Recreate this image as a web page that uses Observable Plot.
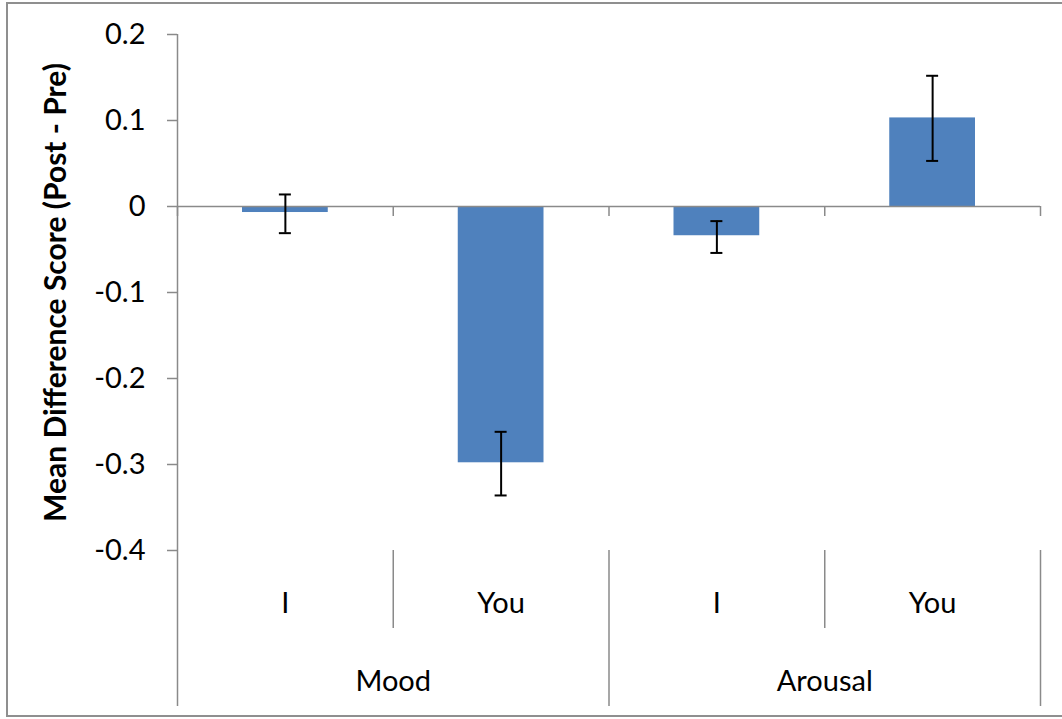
<!DOCTYPE html>
<html>
<head>
<meta charset="utf-8">
<script src="https://cdn.jsdelivr.net/npm/d3@7"></script>
<script src="https://cdn.jsdelivr.net/npm/@observablehq/plot@0.6"></script>
<style>
  html, body { margin: 0; padding: 0; background: #fff; overflow: hidden; }
  #wrap { position: relative; width: 1062px; height: 719px; }
  #border { position: absolute; left: 6px; top: 2px; width: 1070px; height: 715px; border: 2px solid #8f8f8f; box-sizing: border-box; pointer-events: none; }
</style>
</head>
<body>
<div id="wrap"><div id="border"></div></div>
<script>
// ---- data ----
const groups = ["Mood", "Mood", "Arousal", "Arousal"];
const conditions = ["I", "You", "I", "You"];
const means = [-0.007, -0.298, -0.034, 0.103];
const errLow = [-0.031, -0.336, -0.054, 0.053];
const errHigh = [0.014, -0.262, -0.017, 0.152];
const yTicks = [-0.4, -0.3, -0.2, -0.1, 0, 0.1, 0.2];
const yTickLabels = ["-0.4", "-0.3", "-0.2", "-0.1", "0", "0.1", "0.2"];
const yLabel = "Mean Difference Score (Post - Pre)";

const data = means.map((m, i) => ({
  i, group: groups[i], cond: conditions[i], mean: m, lo: errLow[i], hi: errHigh[i]
}));
const boundaries = d3.range(groups.length + 1);
const groupBounds = boundaries.filter(b => b === 0 || b === groups.length || groups[b] !== groups[b - 1]);
const innerBounds = boundaries.filter(b => !groupBounds.includes(b));
const groupNames = Array.from(new Set(groups));
const groupCenters = groupNames.map(g => d3.mean(data.filter(d => d.group === g), d => d.i + 0.5));

const gray = "#8a8a8a";
const font = "Lato, 'Open Sans', sans-serif";

const chart = Plot.plot({
  width: 1062,
  height: 719,
  marginLeft: 177,
  marginRight: 22,
  marginTop: 34,
  marginBottom: 169,
  style: { fontFamily: font, fontSize: "28px", color: "black", background: "transparent", overflow: "visible" },
  x: { type: "linear", domain: [0, groups.length] },
  y: { domain: [-0.4, 0.2] },
  marks: [
    // bars
    Plot.rectY(data, { x1: d => d.i, x2: d => d.i + 1, y1: 0, y2: "mean", fill: "#4f81bd", insetLeft: 65, insetRight: 65 }),
    // y axis line
    Plot.ruleX([0], { stroke: gray, strokeWidth: 1.5 }),
    // zero line
    Plot.ruleY([0], { stroke: gray, strokeWidth: 1.5 }),
    // zero line tick marks
    Plot.ruleX(boundaries, { x: d => d, y1: 0, y2: 0, insetBottom: -10, stroke: gray, strokeWidth: 1.5 }),
    // y axis
    Plot.axisY({ ticks: yTicks, tickSize: 10, tickPadding: 22, stroke: gray, strokeWidth: 1.5, fill: "black",
      tickFormat: d => yTickLabels[yTicks.findIndex(t => Math.abs(t - d) < 1e-9)], label: null, fontSize: 29 }),
    // category separators
    Plot.axisX({ ticks: innerBounds, tickSize: 78, tickFormat: () => "", stroke: gray, strokeWidth: 1.5, label: null }),
    Plot.axisX({ ticks: groupBounds, tickSize: 156, tickFormat: () => "", stroke: gray, strokeWidth: 1.5, label: null }),
    // condition labels
    Plot.axisX({ ticks: data.map(d => d.i + 0.5), tickSize: 0, tickPadding: 42, fill: "black",
      tickFormat: d => conditions[Math.floor(d)], label: null, fontSize: 29 }),
    // group labels
    Plot.axisX({ ticks: groupCenters, tickSize: 0, tickPadding: 120, fill: "black",
      tickFormat: d => groupNames[groupCenters.indexOf(d)], label: null, fontSize: 29 }),
    // y label
    Plot.text([yLabel], { text: d => d, frameAnchor: "left", textAnchor: "middle", lineAnchor: "middle", dx: -121, rotate: -90, fontWeight: "bold", fontSize: 30, fill: "black" }),
    // error bars
    Plot.ruleX(data, { x: d => d.i + 0.5, y1: "lo", y2: "hi", stroke: "black", strokeWidth: 2 }),
    Plot.ruleY(data, { y: "lo", x1: d => d.i + 0.5, x2: d => d.i + 0.5, insetLeft: -6, insetRight: -6, stroke: "black", strokeWidth: 2 }),
    Plot.ruleY(data, { y: "hi", x1: d => d.i + 0.5, x2: d => d.i + 0.5, insetLeft: -6, insetRight: -6, stroke: "black", strokeWidth: 2 })
  ]
});
document.getElementById("wrap").prepend(chart);
</script>
</body>
</html>
